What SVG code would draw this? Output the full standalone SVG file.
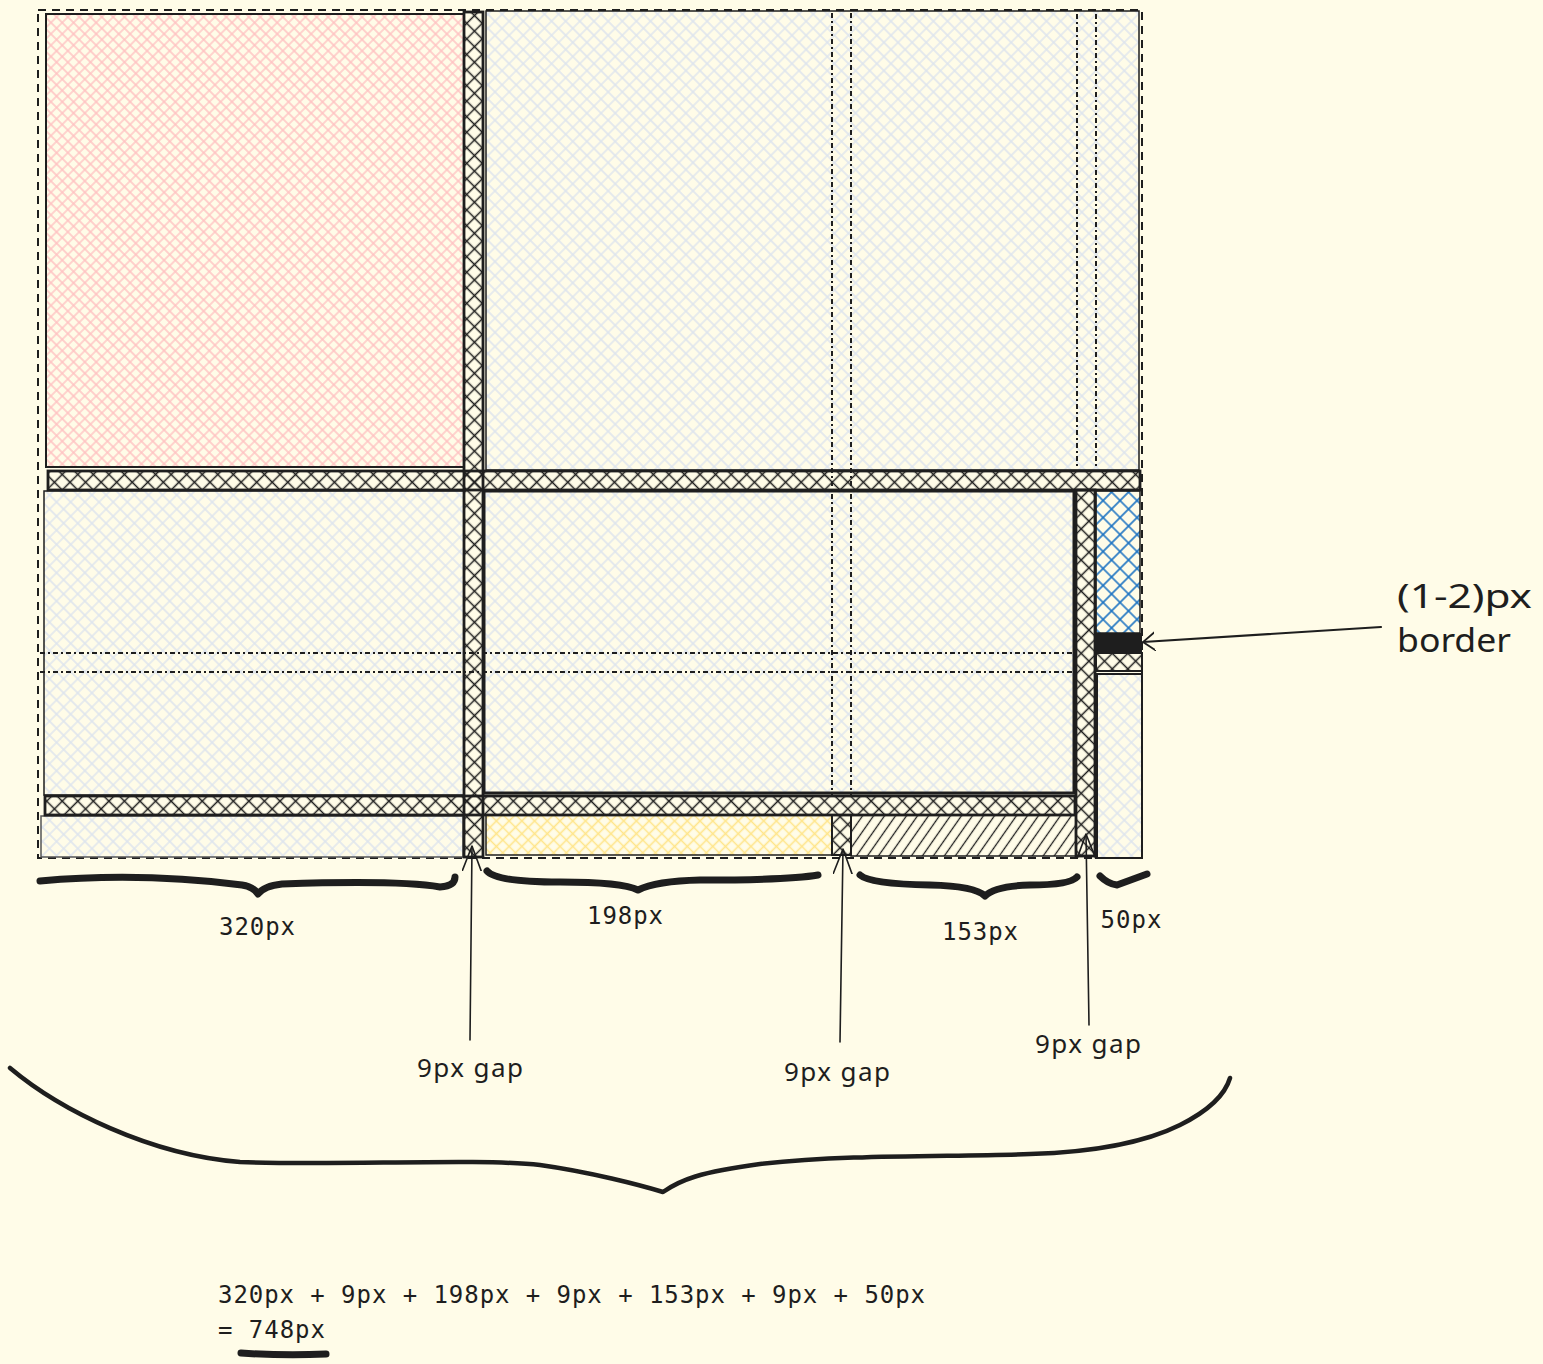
<svg xmlns="http://www.w3.org/2000/svg" width="1543" height="1364" viewBox="0 0 1543 1364">
<defs>
<style>
.strip{fill:url(#pBlack);stroke:#1e1e1e;stroke-width:2.8}
.light{fill:url(#pLight);stroke:#1e1e1e;stroke-width:1.5}
.dashdot{fill:none;stroke:#1e1e1e;stroke-width:2;stroke-dasharray:5 3 2 3}
.brace{fill:none;stroke:#1e1e1e;stroke-width:7;stroke-linecap:round;stroke-linejoin:round}
.arrow{fill:none;stroke:#1e1e1e;stroke-width:1.6;stroke-linecap:round}
.mono{font-family:"DejaVu Sans Mono","Liberation Mono",monospace;font-size:24px;fill:#1e1e1e}
.hand{font-family:"Noto Sans","Open Sans",sans-serif;fill:#1e1e1e}
</style>
<pattern id="pBlack" width="11" height="11" patternUnits="userSpaceOnUse" patternTransform="rotate(45)">
<path d="M0 5.5H11M5.5 0V11" stroke="#1e1e1e" stroke-width="1.5"/>
</pattern>
<pattern id="pLight" width="10" height="10" patternUnits="userSpaceOnUse" patternTransform="rotate(45)">
<path d="M0 5H10M5 0V10" stroke="#dde4ee" stroke-width="1.4"/>
</pattern>
<pattern id="pPink" width="8" height="8" patternUnits="userSpaceOnUse" patternTransform="rotate(45)">
<path d="M0 4H8M4 0V8" stroke="#ffc2c2" stroke-width="1.4"/>
</pattern>
<pattern id="pYellow" width="9" height="9" patternUnits="userSpaceOnUse" patternTransform="rotate(45)">
<path d="M0 4.5H9M4.5 0V9" stroke="#ffe58a" stroke-width="1.6"/>
</pattern>
<pattern id="pBlue" width="12" height="12" patternUnits="userSpaceOnUse" patternTransform="rotate(45)">
<path d="M0 6H12M6 0V12" stroke="#1971c2" stroke-width="1.6"/>
</pattern>
<pattern id="pDiag" width="9" height="9" patternUnits="userSpaceOnUse" patternTransform="rotate(35)">
<path d="M4.5 0V9" stroke="#1e1e1e" stroke-width="1.3"/>
</pattern>
<marker id="headBig" viewBox="0 0 25 20" markerWidth="25" markerHeight="20" refX="25" refY="10" orient="auto" markerUnits="userSpaceOnUse">
<path d="M0 0.5L25 10L0 19.5" fill="none" stroke="#1e1e1e" stroke-width="1.6" stroke-linecap="round"/>
</marker>
<marker id="headSmall" viewBox="0 0 12 20" markerWidth="12" markerHeight="20" refX="12" refY="10" orient="auto" markerUnits="userSpaceOnUse">
<path d="M0 1L12 10L0 19" fill="none" stroke="#1e1e1e" stroke-width="1.8" stroke-linecap="round"/>
</marker>
</defs>

<rect x="0" y="0" width="1543" height="1364" fill="#fffce8"/>

<g id="outer">
<rect x="38" y="10" width="1104" height="848" fill="none" stroke="#1e1e1e" stroke-width="2" stroke-dasharray="8 6"/>
</g>

<g id="cell-pink"><rect x="46" y="14" width="418" height="453" fill="url(#pPink)" stroke="#1e1e1e" stroke-width="2"/></g>
<g id="cell-top-right"><rect x="486" y="11" width="653" height="459" class="light"/></g>
<g id="cell-mid-left"><rect x="44" y="491" width="420" height="304" class="light"/></g>
<g id="cell-mid-center"><rect x="484" y="491" width="590" height="302" class="light" style="stroke-width:3"/></g>
<g id="cell-bottom-left"><rect x="41" y="816" width="422" height="41" class="light" style="stroke:#555"/></g>
<g id="cell-yellow"><rect x="486" y="815" width="346" height="40" fill="url(#pYellow)" stroke="#1e1e1e" stroke-width="1.5"/></g>
<g id="cell-diag"><rect x="851" y="815" width="225" height="41" fill="url(#pDiag)" stroke="#1e1e1e" stroke-width="1.5"/></g>
<g id="cell-blue"><rect x="1096" y="491" width="44" height="142" fill="url(#pBlue)" stroke="#1e1e1e" stroke-width="1.5"/></g>
<g id="border-bar"><rect x="1095" y="633" width="47" height="19" fill="#1e1e1e"/></g>
<g id="small-strip"><rect x="1096" y="653" width="46" height="18" class="strip" style="stroke-width:2"/></g>
<g id="cell-bottom-right"><rect x="1097" y="674" width="45" height="184" class="light" style="stroke-width:2"/></g>

<g id="gaps">
<rect x="48" y="471" width="1092" height="19" class="strip"/>
<rect x="45" y="796" width="1030" height="19" class="strip"/>
<rect x="464" y="12" width="19" height="845" class="strip"/>
<rect x="1076" y="490" width="19" height="366" class="strip"/>
<rect x="832" y="815" width="19" height="40" class="strip" style="stroke-width:2"/>
</g>

<g id="grid-lines">
<path class="dashdot" d="M832 13V795M851 13V795M1077 14V469M1096 14V469"/>
<path class="dashdot" d="M40 653H1075M40 672H1075"/>
</g>

<g id="braces">
<path class="brace" d="M40 881Q140 872 242 885Q254 887 258 894Q264 886 282 884Q400 880 440 887Q455 886 455 877"/>
<path class="brace" d="M487 871Q496 882 560 882Q622 882 638 890Q656 881 700 880Q790 880 818 875"/>
<path class="brace" d="M860 875Q870 884 930 885Q975 886 985 896Q995 886 1030 885Q1070 885 1077 877"/>
<path class="brace" d="M1100 876Q1108 884 1117 885Q1125 882 1147 874"/>
<path class="brace" style="stroke-width:4.5" d="M10 1068C60 1110 150 1155 240 1162C330 1166 480 1158 540 1165C590 1172 640 1185 663 1192C680 1180 700 1172 760 1164C850 1154 950 1157 1030 1154C1100 1152 1150 1140 1180 1125C1210 1110 1225 1095 1230 1078"/>
<path class="brace" d="M241 1353Q285 1356 326 1354"/>
</g>

<g id="connectors">
<path class="arrow" d="M470 1040L472 846" marker-end="url(#headBig)"/>
<path class="arrow" d="M840 1042L843 849" marker-end="url(#headBig)"/>
<path class="arrow" d="M1089 1025L1086 834" marker-end="url(#headBig)"/>
<path class="arrow" style="stroke-width:2.2" d="M1381 627L1143 642" marker-end="url(#headSmall)"/>
</g>

<g id="labels">
<text class="mono" x="257" y="935" text-anchor="middle" textLength="76">320px</text>
<text class="mono" x="625" y="924" text-anchor="middle" textLength="76">198px</text>
<text class="mono" x="980" y="940" text-anchor="middle" textLength="76">153px</text>
<text class="mono" x="1131" y="928" text-anchor="middle" textLength="61">50px</text>
<text class="hand" x="417" y="1077" font-size="26" textLength="106" lengthAdjust="spacing">9px gap</text>
<text class="hand" x="784" y="1081" font-size="26" textLength="106" lengthAdjust="spacing">9px gap</text>
<text class="hand" x="1035" y="1053" font-size="26" textLength="106" lengthAdjust="spacing">9px gap</text>
<text class="hand" x="1397" y="608" font-size="33" textLength="135" lengthAdjust="spacingAndGlyphs">(1-2)px</text>
<text class="hand" x="1397" y="652" font-size="33" textLength="114" lengthAdjust="spacingAndGlyphs">border</text>
<text class="mono" x="218" y="1303" textLength="707" lengthAdjust="spacing">320px + 9px + 198px + 9px + 153px + 9px + 50px</text>
<text class="mono" x="218" y="1338" textLength="107" lengthAdjust="spacing">= 748px</text>
</g>
</svg>
